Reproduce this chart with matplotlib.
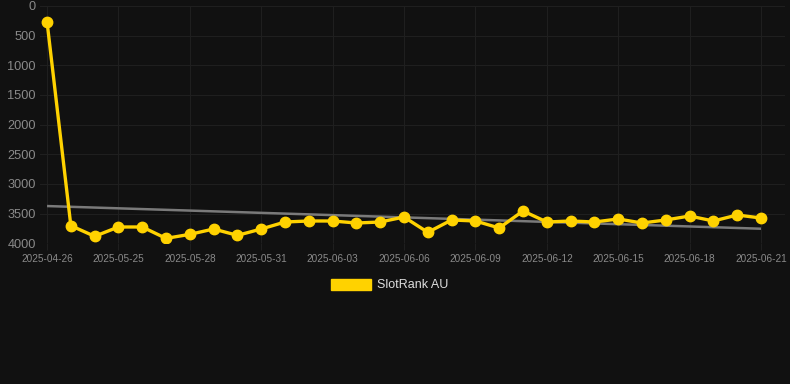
import matplotlib
matplotlib.use("Agg")
import matplotlib.pyplot as plt
from matplotlib.patches import Patch
import numpy as np

dates = ["2025-04-26"] + [f"2025-05-{d:02d}" for d in range(23, 32)] + [f"2025-06-{d:02d}" for d in range(1, 22)]
ranks = [265, 3703, 3882, 3725, 3725, 3917, 3849, 3759, 3866, 3759,
         3641, 3624, 3624, 3658, 3641, 3557, 3815, 3607, 3624, 3742,
         3455, 3641, 3624, 3641, 3590, 3658, 3607, 3540, 3624, 3523, 3574]
series_name = "SlotRank AU"
y_ticks = [0, 500, 1000, 1500, 2000, 2500, 3000, 3500, 4000]

BG = "#111111"
YEL = "#FFD200"
GRID = "#1f1f1f"
TXT = "#8a8a8a"

plt.rcParams['font.family'] = ['Liberation Sans', 'DejaVu Sans']

fig = plt.figure(figsize=(7.9, 3.84), dpi=100, facecolor=BG)
left_px, right_px = 39.9, 784.8
top_px, bot_px = 6.0, 243.3
ax = fig.add_axes([left_px / 790, 1 - bot_px / 384, (right_px - left_px) / 790, (bot_px - top_px) / 384])
ax.set_facecolor(BG)

x = np.arange(len(dates))
y = np.array(ranks, dtype=float)

# trend line (least squares)
coef = np.polyfit(x, y, 1)
ax.plot(x, np.polyval(coef, x), color="#7a7a7a", lw=1.8, zorder=2, solid_capstyle="butt")

ax.plot(x, y, color=YEL, lw=2.4, marker="o", markersize=7.5, markerfacecolor=YEL,
        markeredgecolor=YEL, zorder=3)

ax.set_xlim(-0.3, len(dates))
ax.set_ylim(4000, 0)
ax.set_yticks(y_ticks)
ax.set_yticklabels([str(v) for v in y_ticks])
tick_idx = list(range(0, len(dates), 3))
ax.set_xticks(tick_idx)
ax.set_xticklabels([dates[i] for i in tick_idx])

ax.grid(True, color=GRID, lw=0.8, zorder=0)
for s in ax.spines.values():
    s.set_visible(False)
ax.tick_params(axis='y', colors=TXT, labelsize=9.2, length=0, pad=3)
ax.tick_params(axis='x', colors=TXT, labelsize=7.2, length=5, color=GRID, pad=3)
for lbl in ax.get_yticklabels():
    lbl.set_color(TXT)
for lbl in ax.get_xticklabels():
    lbl.set_color(TXT)

handle = Patch(facecolor=YEL, edgecolor=YEL)
leg = fig.legend([handle], [series_name], loc="center", bbox_to_anchor=(390 / 790, 1 - 285 / 384),
                 frameon=False, fontsize=9, handlelength=3.2, handleheight=1.0, handletextpad=0.5,
                 labelcolor="#dddddd")

fig.savefig("out.png", dpi=100, facecolor=BG)
